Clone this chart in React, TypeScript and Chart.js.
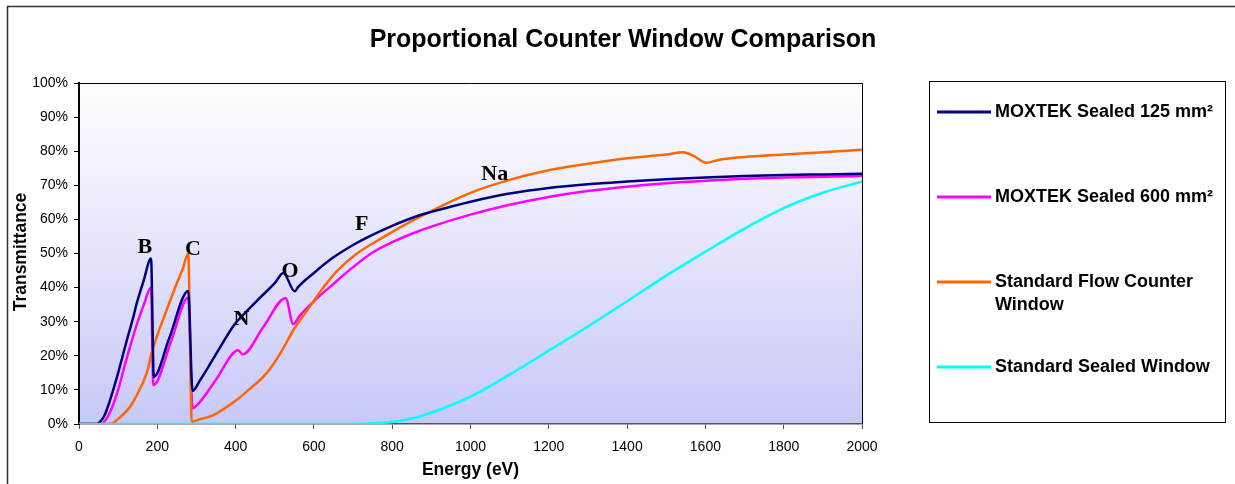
import { useEffect, useRef } from "react";
import { Chart, registerables } from "chart.js";

Chart.register(...registerables);

const chartTitle = "Proportional Counter Window Comparison";
const xAxisTitle = "Energy (eV)";
const yAxisTitle = "Transmittance";

const seriesNames = [
  ["MOXTEK Sealed 125 mm²"],
  ["MOXTEK Sealed 600 mm²"],
  ["Standard Flow Counter", "Window"],
  ["Standard Sealed Window"],
];
const seriesColors = ["#000080", "#ff00ff", "#ff6600", "#00ffff"];

const xTicksMin = 0;
const xTicksMax = 2000;
const xTickStep = 200;
const yTicksMax = 100;
const yTickStep = 10;

// MOXTEK Sealed 125 mm²
const moxtek125E = [0, 45, 55, 65, 75, 90, 100, 122, 139, 147, 165, 184, 191, 230, 279, 290, 309, 350, 398, 411, 462, 500, 522, 551, 560, 600, 649, 700, 734, 800, 870, 900, 1000, 1100, 1200, 1300, 1400, 1500, 1600, 1700, 1800, 1900, 2000];
const moxtek125T = [0, 0, 0.8, 2.5, 5.5, 11, 15, 24.5, 31.5, 35.2, 42, 48.5, 13.8, 25, 39, 9.7, 12.8, 20.5, 29.3, 31, 37, 41.3, 44.3, 38.9, 40.2, 44.3, 48.8, 52.5, 54.6, 58.1, 61.2, 62.2, 65.2, 67.6, 69.2, 70.3, 71.1, 71.8, 72.3, 72.7, 73.0, 73.2, 73.4];

// MOXTEK Sealed 600 mm²
const moxtek600E = [0, 55, 70, 85, 100, 120, 150, 165, 184, 190, 235, 279, 290, 309, 350, 407, 418, 470, 528, 547, 564, 600, 649, 700, 750, 800, 850, 900, 1000, 1100, 1200, 1300, 1400, 1500, 1600, 1700, 1800, 1900, 2000];
const moxtek600T = [0, 0, 1.5, 5, 10, 18.5, 30, 34.8, 40, 11.4, 24.2, 37.1, 4.6, 6.5, 13, 21.6, 20.4, 28.3, 36.9, 29.3, 31.8, 36, 41, 46, 50.3, 53.3, 55.8, 57.9, 61.4, 64.3, 66.6, 68.3, 69.6, 70.6, 71.3, 71.9, 72.3, 72.5, 72.7];

// Standard Flow Counter Window
const flowE = [0, 79, 100, 130, 150, 173, 186, 200, 224, 249, 265, 279, 288, 309, 343, 400, 428, 480, 513, 550, 590, 624, 660, 710, 773, 858, 1000, 1100, 1200, 1300, 1400, 1500, 1543, 1570, 1602, 1636, 1700, 1800, 1900, 2000];
const flowT = [0, 0, 1.5, 5, 9, 15, 21, 26, 33.5, 41, 45.5, 50, 0.7, 1.4, 2.6, 6.8, 9.5, 15, 20.5, 28, 34.5, 40, 45, 50, 54.5, 60, 67.8, 71.6, 74.4, 76.3, 77.9, 79.0, 79.7, 78.6, 76.6, 77.5, 78.3, 79.0, 79.7, 80.4];

// Standard Sealed Window
const sealedE = [0, 700, 750, 800, 850, 900, 950, 1000, 1100, 1200, 1300, 1400, 1500, 1600, 1700, 1800, 1900, 2000];
const sealedT = [0, 0, 0.2, 0.6, 1.6, 3.3, 5.5, 8.0, 14.5, 21.5, 28.6, 36.0, 43.5, 50.5, 57.3, 63.3, 67.8, 71.1];

// Absorption edge labels
const edgeLabels = ["B", "C", "N", "O", "F", "Na"];
const edgeLabelE = [168, 291, 415, 539, 722, 1062];
const edgeLabelT = [51.7, 51.2, 30.8, 44.9, 58.7, 73.1];

const toPoints = (xs: number[], ys: number[]) => xs.map((x, i) => ({ x, y: ys[i] }));

export default function App() {
  const ref = useRef<HTMLCanvasElement>(null);

  useEffect(() => {
    const canvas = ref.current;
    if (!canvas) return;

    const sans = "'Liberation Sans', Arial, sans-serif";
    const serif = "'Liberation Serif', 'Times New Roman', serif";

    const decor = {
      id: "decor",
      beforeDraw(chart: any) {
        const { ctx, chartArea: a } = chart;
        ctx.save();
        ctx.fillStyle = "#ffffff";
        ctx.fillRect(0, 0, chart.width, chart.height);
        const g = ctx.createLinearGradient(0, a.top, 0, a.bottom);
        g.addColorStop(0, "#ffffff");
        g.addColorStop(1, "#c8c8f8");
        ctx.fillStyle = g;
        ctx.fillRect(a.left, a.top, a.right - a.left, a.bottom - a.top);
        ctx.restore();
      },
      afterDatasetsDraw(chart: any) {
        const { ctx, chartArea: a, scales } = chart;
        ctx.save();
        ctx.strokeStyle = "#000";
        ctx.lineWidth = 1;
        ctx.beginPath();
        ctx.moveTo(a.left, a.top + 0.5);
        ctx.lineTo(a.right + 0.5, a.top + 0.5);
        ctx.lineTo(a.right + 0.5, a.bottom);
        ctx.stroke();
        ctx.fillStyle = "#000";
        ctx.font = `bold 22px ${serif}`;
        ctx.textAlign = "center";
        ctx.textBaseline = "middle";
        edgeLabels.forEach((t, i) => {
          ctx.fillText(t, scales.x.getPixelForValue(edgeLabelE[i]), scales.y.getPixelForValue(edgeLabelT[i]));
        });
        ctx.restore();
      },
      afterDraw(chart: any) {
        const { ctx, chartArea: a } = chart;
        ctx.save();
        ctx.strokeStyle = "#333";
        ctx.lineWidth = 1.5;
        ctx.strokeRect(7.5, 6.5, chart.width + 20, chart.height + 20);
        ctx.fillStyle = "#000";
        ctx.textAlign = "center";
        ctx.textBaseline = "middle";
        ctx.font = `bold 25px ${sans}`;
        ctx.fillText(chartTitle, 623, 40);
        ctx.font = `bold 17.5px ${sans}`;
        ctx.fillText(xAxisTitle, (a.left + a.right) / 2, 470);
        ctx.save();
        ctx.translate(21, 252);
        ctx.rotate(-Math.PI / 2);
        ctx.fillText(yAxisTitle, 0, 0);
        ctx.restore();
        ctx.strokeStyle = "#000";
        ctx.lineWidth = 1;
        ctx.strokeRect(929.5, 81.5, 296, 341);
        const rows = [112, 197, 282, 367];
        ctx.textAlign = "left";
        ctx.font = `bold 18px ${sans}`;
        seriesNames.forEach((lines, i) => {
          ctx.strokeStyle = seriesColors[i];
          ctx.lineWidth = 3;
          ctx.beginPath();
          ctx.moveTo(937, rows[i]);
          ctx.lineTo(991, rows[i]);
          ctx.stroke();
          lines.forEach((ln, j) => ctx.fillText(ln, 995, rows[i] + j * 23));
        });
        ctx.restore();
      },
    };

    const mk = (i: number, xs: number[], ys: number[], order: number) => ({
      label: seriesNames[i].join(" "),
      data: toPoints(xs, ys),
      borderColor: seriesColors[i],
      backgroundColor: seriesColors[i],
      borderWidth: 2.5,
      pointRadius: 0,
      showLine: true,
      fill: false,
      cubicInterpolationMode: "monotone" as const,
      order,
    });

    const chart = new Chart(canvas, {
      type: "scatter",
      data: {
        datasets: [
          mk(0, moxtek125E, moxtek125T, 1),
          mk(1, moxtek600E, moxtek600T, 3),
          mk(2, flowE, flowT, 2),
          mk(3, sealedE, sealedT, 0),
        ],
      },
      options: {
        responsive: false,
        animation: false,
        devicePixelRatio: 1,
        layout: { padding: { left: 0, right: 373, top: 83, bottom: 0 } },
        plugins: { legend: { display: false }, tooltip: { enabled: false }, title: { display: false } },
        scales: {
          x: {
            type: "linear",
            min: xTicksMin,
            max: xTicksMax,
            afterFit: (s: any) => { s.height = 60; },
            ticks: { stepSize: xTickStep, color: "#000", font: { family: sans, size: 14 }, padding: 10, maxRotation: 0, callback: (v: any) => String(v) },
            grid: { drawOnChartArea: false, drawTicks: true, tickLength: 5, color: "#555" },
            border: { color: "#555", width: 1.5 },
          },
          y: {
            min: 0,
            max: yTicksMax,
            afterFit: (s: any) => { s.width = 79; },
            ticks: { stepSize: yTickStep, color: "#000", font: { family: sans, size: 14 }, padding: 6, callback: (v: any) => `${v}%` },
            grid: { drawOnChartArea: false, drawTicks: true, tickLength: 5, color: "#000" },
            border: { color: "#000", width: 2 },
          },
        },
      },
      plugins: [decor],
    });

    return () => chart.destroy();
  }, []);

  return (
    <div style={{ position: "fixed", left: 0, top: 0, width: 1235, height: 484, background: "#fff" }}>
      <canvas ref={ref} width={1235} height={484} style={{ display: "block", width: 1235, height: 484 }} />
    </div>
  );
}
